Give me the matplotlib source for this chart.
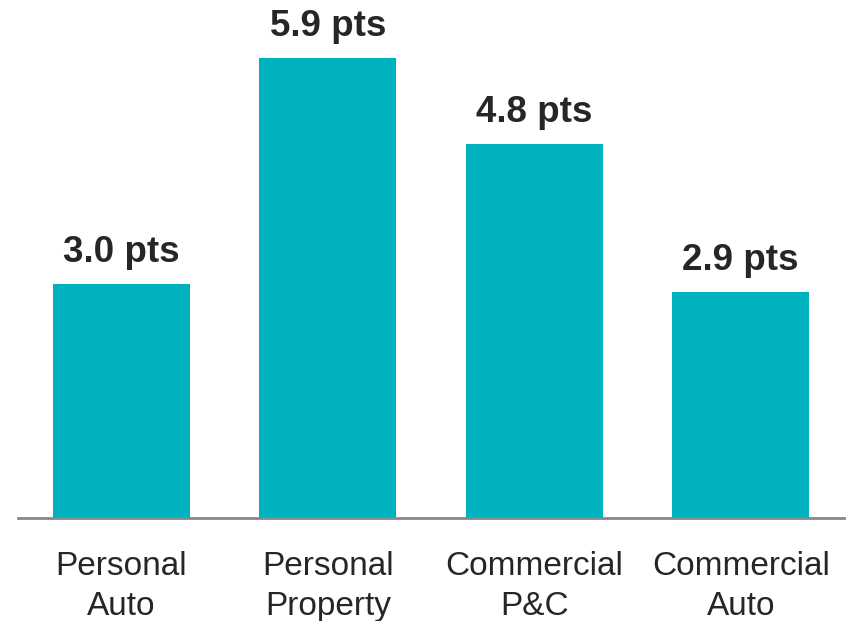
import matplotlib.pyplot as plt

plt.rcParams['font.family'] = ['Liberation Sans', 'DejaVu Sans']

categories = ['Personal\nAuto', 'Personal\nProperty', 'Commercial\nP&C', 'Commercial\nAuto']
values = [3.0, 5.9, 4.8, 2.9]
labels = ['3.0 pts', '5.9 pts', '4.8 pts', '2.9 pts']

fig = plt.figure(figsize=(8.5, 6.21), dpi=100)
ax = fig.add_axes([18 / 850, 1 - 518 / 621, 826 / 850, 518 / 621])

x = range(len(categories))
bars = ax.bar(x, values, width=0.663, color='#00B2BD')

for b, lab in zip(bars, labels):
    ax.annotate(lab, (b.get_x() + b.get_width() / 2, b.get_height()),
                xytext=(0, 10), textcoords='offset points',
                ha='center', va='bottom', fontsize=26.5, fontweight='bold',
                color='#262626')

ax.set_xlim(-0.5, 3.5)
ax.set_ylim(0, 6.64)
ax.set_xticks(list(x))
ax.set_xticklabels(categories, fontsize=24, color='#262626', linespacing=1.35)
ax.tick_params(axis='x', length=0, pad=24)
ax.set_yticks([])
for s in ['top', 'right', 'left']:
    ax.spines[s].set_visible(False)
ax.spines['bottom'].set_color('#888888')
ax.spines['bottom'].set_linewidth(2)

fig.savefig('out.png', dpi=100)
